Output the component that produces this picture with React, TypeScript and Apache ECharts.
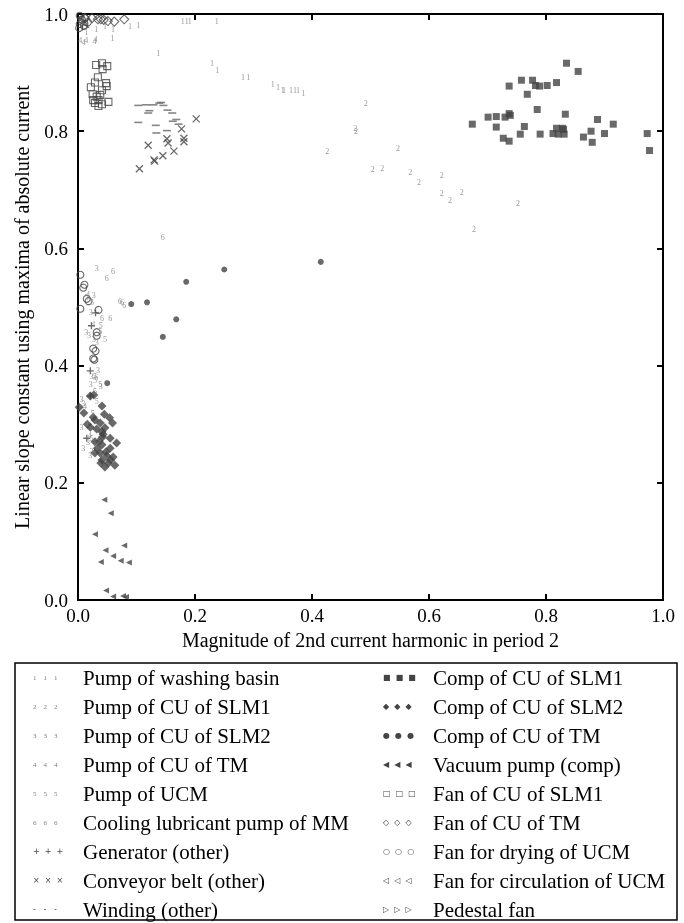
import React, { useEffect, useRef } from "react";
import * as echarts from "echarts";

const FONT = "'Liberation Serif', 'Times New Roman', serif";
const DARK = "#444";
const GREY = "#808080";

// ---- data: [magnitude of 2nd harmonic, linear slope constant] ----
const pumpWashingBasin = [
  [0.007, 0.986], [0.017, 0.981], [0.014, 0.968], [0.031, 0.973], [0.046, 0.978],
  [0.060, 0.973], [0.089, 0.978], [0.103, 0.981], [0.059, 0.959], [0.137, 0.933],
  [0.179, 0.988], [0.186, 0.988], [0.191, 0.988], [0.237, 0.988], [0.229, 0.915],
  [0.238, 0.904], [0.282, 0.892], [0.291, 0.891], [0.333, 0.879], [0.342, 0.875],
  [0.350, 0.870], [0.352, 0.869], [0.364, 0.869], [0.371, 0.869], [0.376, 0.869],
  [0.385, 0.865],
];
const pumpCuSlm1 = [
  [0.492, 0.848], [0.474, 0.804], [0.475, 0.800], [0.426, 0.766], [0.547, 0.770],
  [0.504, 0.735], [0.520, 0.737], [0.568, 0.730], [0.583, 0.712], [0.622, 0.724],
  [0.622, 0.693], [0.636, 0.681], [0.656, 0.695], [0.677, 0.633], [0.752, 0.677],
];
const pumpCuSlm2 = [
  [0.032, 0.565], [0.027, 0.520], [0.015, 0.517], [0.022, 0.490], [0.014, 0.456],
  [0.019, 0.451], [0.027, 0.445], [0.032, 0.440], [0.034, 0.392], [0.023, 0.382],
  [0.022, 0.367], [0.039, 0.365], [0.006, 0.343], [0.009, 0.336], [0.015, 0.299],
  [0.006, 0.294], [0.009, 0.259], [0.017, 0.268], [0.023, 0.253], [0.021, 0.247],
];
const pumpCuTm = [
  [0.004, 0.955], [0.010, 0.952], [0.014, 0.955], [0.028, 0.953], [0.030, 0.957],
  [0.017, 0.522], [0.026, 0.470], [0.012, 0.330], [0.020, 0.280],
];
const pumpUcm = [
  [0.024, 0.507], [0.039, 0.468], [0.038, 0.459], [0.046, 0.445], [0.029, 0.374],
  [0.029, 0.381], [0.038, 0.367], [0.029, 0.355], [0.032, 0.338], [0.025, 0.319],
  [0.023, 0.276], [0.032, 0.268],
];
const coolingPumpMm = [
  [0.145, 0.619], [0.060, 0.561], [0.049, 0.548], [0.072, 0.510], [0.075, 0.508],
  [0.079, 0.502], [0.041, 0.481], [0.055, 0.480], [0.031, 0.380],
];
const generator = [
  [0.030, 0.490], [0.023, 0.468], [0.021, 0.391], [0.021, 0.348], [0.015, 0.276],
];
const conveyorBelt = [
  [0.202, 0.821], [0.177, 0.804], [0.120, 0.776], [0.152, 0.787], [0.154, 0.780],
  [0.181, 0.788], [0.181, 0.782], [0.164, 0.766], [0.145, 0.758], [0.130, 0.751],
  [0.131, 0.749], [0.105, 0.736],
];
const winding = [
  [0.103, 0.844], [0.116, 0.845], [0.129, 0.845], [0.139, 0.848], [0.142, 0.849],
  [0.146, 0.844], [0.122, 0.835], [0.120, 0.831], [0.153, 0.836], [0.161, 0.831],
  [0.168, 0.820], [0.162, 0.817], [0.172, 0.812], [0.103, 0.815], [0.133, 0.810],
  [0.134, 0.797], [0.152, 0.801],
];
const compCuSlm1 = [
  [0.835, 0.916], [0.855, 0.902], [0.737, 0.877], [0.758, 0.887], [0.777, 0.887],
  [0.782, 0.878], [0.789, 0.877], [0.802, 0.878], [0.818, 0.883], [0.768, 0.863],
  [0.785, 0.837], [0.833, 0.829], [0.674, 0.812], [0.701, 0.824], [0.715, 0.825],
  [0.730, 0.824], [0.737, 0.830], [0.739, 0.827], [0.715, 0.807], [0.763, 0.808],
  [0.888, 0.820], [0.915, 0.812], [0.727, 0.788], [0.737, 0.783], [0.756, 0.795],
  [0.790, 0.795], [0.812, 0.796], [0.818, 0.805], [0.821, 0.795], [0.828, 0.805],
  [0.830, 0.803], [0.831, 0.795], [0.864, 0.790], [0.877, 0.800], [0.879, 0.781],
  [0.900, 0.796], [0.973, 0.796], [0.977, 0.767],
];
const compCuSlm2 = [
  [0.021, 0.348], [0.027, 0.350], [0.002, 0.329], [0.010, 0.319], [0.041, 0.331],
  [0.045, 0.317], [0.054, 0.311], [0.059, 0.302], [0.026, 0.312], [0.029, 0.307],
  [0.016, 0.300], [0.021, 0.295], [0.038, 0.302], [0.032, 0.292], [0.041, 0.287],
  [0.046, 0.294], [0.043, 0.283], [0.042, 0.278], [0.055, 0.276], [0.066, 0.268],
  [0.029, 0.270], [0.036, 0.271], [0.041, 0.265], [0.033, 0.259], [0.055, 0.259],
  [0.038, 0.251], [0.048, 0.253], [0.029, 0.251], [0.060, 0.244], [0.041, 0.239],
  [0.049, 0.246], [0.039, 0.234], [0.052, 0.234], [0.063, 0.230], [0.046, 0.227],
  [0.056, 0.239],
];
const compCuTm = [
  [0.050, 0.370], [0.091, 0.505], [0.118, 0.508], [0.145, 0.449], [0.168, 0.479],
  [0.185, 0.543], [0.250, 0.564], [0.415, 0.577],
];
const vacuumPump = [
  [0.045, 0.171], [0.056, 0.148], [0.029, 0.112], [0.079, 0.093], [0.047, 0.085],
  [0.060, 0.075], [0.073, 0.067], [0.087, 0.064], [0.039, 0.065], [0.048, 0.016],
  [0.060, 0.006], [0.077, 0.007], [0.082, 0.005],
];
const fanCuSlm1 = [
  [0.031, 0.913], [0.041, 0.916], [0.050, 0.911], [0.042, 0.906], [0.034, 0.892],
  [0.029, 0.883], [0.048, 0.882], [0.022, 0.875], [0.049, 0.877], [0.041, 0.870],
  [0.025, 0.863], [0.032, 0.859], [0.038, 0.862], [0.026, 0.853], [0.035, 0.853],
  [0.029, 0.848], [0.041, 0.846], [0.052, 0.850], [0.035, 0.843],
];
const fanCuTm = [
  [0.012, 0.993], [0.024, 0.993], [0.034, 0.991], [0.039, 0.991], [0.044, 0.990],
  [0.051, 0.988], [0.062, 0.987], [0.079, 0.991],
];
const fanDryingUcm = [
  [0.003, 0.997], [0.007, 0.990], [0.012, 0.993], [0.003, 0.983], [0.010, 0.980],
  [0.017, 0.986], [0.002, 0.976],
  [0.004, 0.555], [0.011, 0.538], [0.009, 0.533], [0.015, 0.514], [0.018, 0.510],
  [0.004, 0.497], [0.035, 0.495], [0.032, 0.457], [0.032, 0.451], [0.026, 0.429],
  [0.030, 0.425], [0.026, 0.412], [0.028, 0.410],
];
const fanCirculationUcm = [[0.005, 0.994], [0.011, 0.984]];
const pedestalFan = [[0.006, 0.989], [0.013, 0.978]];

const xTicks = [0, 0.2, 0.4, 0.6, 0.8, 1.0];
const yTicks = [0, 0.2, 0.4, 0.6, 0.8, 1.0];

const LEFT_NAMES = [
  "Pump of washing basin", "Pump of CU of SLM1", "Pump of CU of SLM2", "Pump of CU of TM",
  "Pump of UCM", "Cooling lubricant pump of MM", "Generator (other)", "Conveyor belt (other)",
  "Winding (other)",
];
const RIGHT_NAMES = [
  "Comp of CU of SLM1", "Comp of CU of SLM2", "Comp of CU of TM", "Vacuum pump (comp)",
  "Fan of CU of SLM1", "Fan of CU of TM", "Fan for drying of UCM",
  "Fan for circulation of UCM", "Pedestal fan",
];

const LEGEND_MARKS: Record<string, [string, string]> = {
  "Pump of washing basin": ["dg", "1    1    1"],
  "Pump of CU of SLM1": ["dg", "2    2    2"],
  "Pump of CU of SLM2": ["dg", "3    3    3"],
  "Pump of CU of TM": ["dg", "4    4    4"],
  "Pump of UCM": ["dg", "5    5    5"],
  "Cooling lubricant pump of MM": ["dg", "6    6    6"],
  "Generator (other)": ["sh", "+  +  +"],
  "Conveyor belt (other)": ["sh", "×  ×  ×"],
  "Winding (other)": ["sh", "-   -   -"],
  "Comp of CU of SLM1": ["sh", "■  ■  ■"],
  "Comp of CU of SLM2": ["sh", "◆  ◆  ◆"],
  "Comp of CU of TM": ["sh", "●  ●  ●"],
  "Vacuum pump (comp)": ["sh", "◀  ◀  ◀"],
  "Fan of CU of SLM1": ["sh", "□  □  □"],
  "Fan of CU of TM": ["sh", "◇  ◇  ◇"],
  "Fan for drying of UCM": ["sh", "○  ○  ○"],
  "Fan for circulation of UCM": ["sh", "◁  ◁  ◁"],
  "Pedestal fan": ["sh", "▷  ▷  ▷"],
};

const digitSeries = (name: string, digit: string, data: number[][]) => ({
  type: "scatter",
  name,
  data,
  symbol: "circle",
  symbolSize: 0.1,
  itemStyle: { color: "rgba(0,0,0,0)" },
  label: {
    show: true,
    position: "inside",
    formatter: digit,
    fontSize: 8,
    color: GREY,
    textBorderWidth: 0,
    textBorderColor: "transparent",
    fontFamily: FONT,
  },
  emphasis: { disabled: true },
  z: 3,
});

const filledSeries = (name: string, data: number[][], symbol: string, size: any, extra: any = {}) => ({
  type: "scatter",
  name,
  data,
  symbol,
  symbolSize: size,
  itemStyle: { color: DARK },
  emphasis: { disabled: true },
  z: 2,
  ...extra,
});

const hollowSeries = (name: string, data: number[][], symbol: string, size: any, extra: any = {}) => ({
  type: "scatter",
  name,
  data,
  symbol,
  symbolSize: size,
  itemStyle: { color: "rgba(0,0,0,0)", borderColor: DARK, borderWidth: 1.1 },
  emphasis: { disabled: true },
  z: 2,
  ...extra,
});

const PLUS = "path://M0,5L10,5M5,0L5,10";
const CROSS = "path://M0,0L10,10M10,0L0,10";

const axisCommon = {
  type: "value",
  min: 0,
  max: 1,
  interval: 0.2,
  splitLine: { show: false },
  axisLine: { show: true, onZero: false, lineStyle: { color: "#000", width: 2 } },
  axisTick: { show: true, inside: true, length: 6, lineStyle: { color: "#000", width: 2 } },
};

const legendCommon = {
  orient: "vertical",
  top: 667,
  height: 254,
  padding: 0,
  itemGap: 8,
  itemWidth: 0,
  itemHeight: 0,
  icon: "none",
  selectedMode: false,
  formatter: (name: string) => {
    const m = LEGEND_MARKS[name];
    return `{${m[0]}|${m[1]}}{t|${name}}`;
  },
  textStyle: {
    color: "#000",
    textBorderWidth: 0,
    rich: {
      dg: { fontSize: 7, color: GREY, fontFamily: FONT, width: 50, lineHeight: 20, verticalAlign: "middle" },
      sh: { fontSize: 8, color: DARK, fontFamily: "'DejaVu Sans'", width: 50, lineHeight: 20, verticalAlign: "middle" },
      t: { fontSize: 21, color: "#000", fontFamily: FONT, lineHeight: 20, verticalAlign: "middle" },
    },
  },
};

export default function App() {
  const ref = useRef<HTMLDivElement>(null);
  useEffect(() => {
    document.body.style.margin = "0";
    const chart = echarts.init(ref.current!, null, { renderer: "svg" });
    const option: any = {
      animation: false,
      backgroundColor: "#fff",
      grid: { left: 78, right: 21, top: 14, bottom: 323, containLabel: false },
      xAxis: [
        {
          ...axisCommon,
          position: "bottom",
          name: "Magnitude of 2nd current harmonic in period 2",
          nameLocation: "middle",
          nameGap: 24,
          nameTextStyle: { fontFamily: FONT, fontSize: 20, color: "#000" },
          axisLabel: {
            margin: 6,
            fontFamily: FONT,
            fontSize: 19,
            color: "#000",
            formatter: (v: number) => (xTicks.includes(v) ? v.toFixed(1) : ""),
          },
        },
        { ...axisCommon, position: "top", axisLabel: { show: false } },
      ],
      yAxis: [
        {
          ...axisCommon,
          position: "left",
          name: "Linear slope constant using maxima of absolute current",
          nameLocation: "middle",
          nameGap: 46,
          nameTextStyle: { fontFamily: FONT, fontSize: 20, color: "#000" },
          axisLabel: {
            margin: 10,
            fontFamily: FONT,
            fontSize: 19,
            color: "#000",
            formatter: (v: number) => (yTicks.includes(v) ? v.toFixed(1) : ""),
          },
        },
        { ...axisCommon, position: "right", axisLabel: { show: false } },
      ],
      legend: [
        { ...legendCommon, left: 28, data: LEFT_NAMES },
        { ...legendCommon, left: 378, data: RIGHT_NAMES },
      ],
      graphic: [
        {
          type: "rect",
          shape: { x: 15, y: 663, width: 662, height: 257 },
          style: { fill: "none", stroke: "#000", lineWidth: 1.5 },
          z: -1,
        },
      ],
      series: [
        digitSeries("Pump of washing basin", "1", pumpWashingBasin),
        digitSeries("Pump of CU of SLM1", "2", pumpCuSlm1),
        digitSeries("Pump of CU of SLM2", "3", pumpCuSlm2),
        digitSeries("Pump of CU of TM", "4", pumpCuTm),
        digitSeries("Pump of UCM", "5", pumpUcm),
        digitSeries("Cooling lubricant pump of MM", "6", coolingPumpMm),
        hollowSeries("Generator (other)", generator, PLUS, 7, { itemStyle: { color: "rgba(0,0,0,0)", borderColor: DARK, borderWidth: 1.3 } }),
        hollowSeries("Conveyor belt (other)", conveyorBelt, CROSS, 7, { itemStyle: { color: "rgba(0,0,0,0)", borderColor: DARK, borderWidth: 1.3 } }),
        filledSeries("Winding (other)", winding, "rect", [8, 1.6], { itemStyle: { color: "#666" } }),
        filledSeries("Comp of CU of SLM1", compCuSlm1, "rect", 7),
        filledSeries("Comp of CU of SLM2", compCuSlm2, "diamond", 9),
        filledSeries("Comp of CU of TM", compCuTm, "circle", 6),
        filledSeries("Vacuum pump (comp)", vacuumPump, "triangle", 6, { symbolRotate: 90 }),
        hollowSeries("Fan of CU of SLM1", fanCuSlm1, "rect", 7),
        hollowSeries("Fan of CU of TM", fanCuTm, "diamond", 9),
        hollowSeries("Fan for drying of UCM", fanDryingUcm, "circle", 7),
        hollowSeries("Fan for circulation of UCM", fanCirculationUcm, "triangle", 6, { symbolRotate: 90 }),
        hollowSeries("Pedestal fan", pedestalFan, "triangle", 6, { symbolRotate: -90 }),
      ],
    };
    chart.setOption(option);
    return () => chart.dispose();
  }, []);
  return <div ref={ref} style={{ width: 684, height: 923, willChange: "transform" }} />;
}
